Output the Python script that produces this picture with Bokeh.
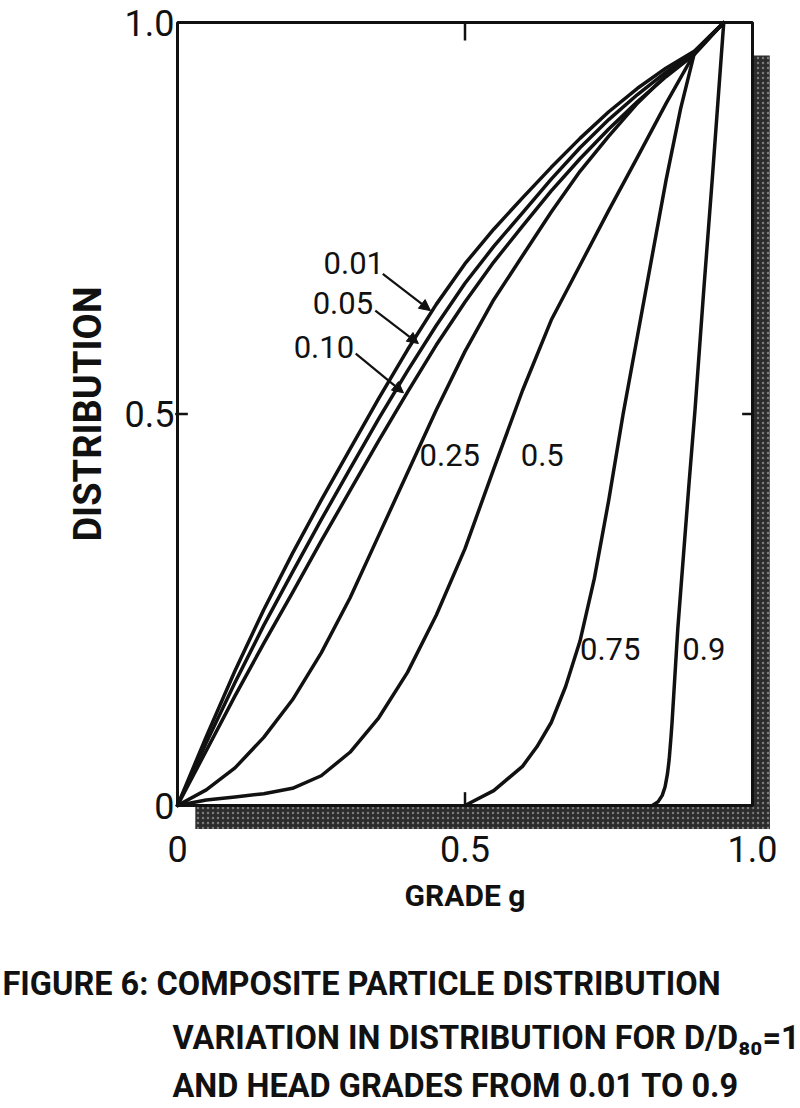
from bokeh.plotting import figure
from bokeh.models import (Range1d, FixedTicker, Arrow, NormalHead, ColumnDataSource,
                          LinearAxis)
from bokeh.core.properties import value
from bokeh.embed import file_html
from bokeh.resources import INLINE

FONT = "Roboto"
INK = "#111111"

# ---------------- data ----------------
head_grades = ["0.01", "0.05", "0.10", "0.25", "0.5", "0.75", "0.9"]

grade_common = [0, 0.05, 0.10, 0.15, 0.20, 0.25, 0.30, 0.35, 0.40, 0.45,
                0.50, 0.55, 0.60, 0.65, 0.70, 0.75, 0.80, 0.85, 0.90, 0.95]
dist_001 = [0, 0.088, 0.172, 0.250, 0.322, 0.390, 0.455, 0.520, 0.582, 0.640,
            0.692, 0.736, 0.776, 0.815, 0.852, 0.886, 0.916, 0.942, 0.964, 1.0]
dist_005 = [0, 0.080, 0.157, 0.230, 0.298, 0.365, 0.430, 0.494, 0.555, 0.613,
            0.667, 0.714, 0.757, 0.800, 0.840, 0.876, 0.908, 0.937, 0.962, 1.0]
dist_010 = [0, 0.070, 0.140, 0.207, 0.272, 0.338, 0.402, 0.466, 0.528, 0.588,
            0.643, 0.694, 0.740, 0.785, 0.826, 0.864, 0.899, 0.931, 0.960, 1.0]
dist_025 = [0, 0.020, 0.048, 0.087, 0.135, 0.195, 0.265, 0.345, 0.425, 0.505,
            0.580, 0.646, 0.702, 0.758, 0.810, 0.855, 0.897, 0.933, 0.962, 1.0]
dist_050 = [0, 0.007, 0.011, 0.015, 0.022, 0.038, 0.068, 0.112, 0.170, 0.243,
            0.328, 0.430, 0.530, 0.620, 0.690, 0.760, 0.828, 0.897, 0.962, 1.0]

grade_075 = [0.50, 0.55, 0.60, 0.625, 0.65, 0.675, 0.70, 0.725, 0.75, 0.775,
             0.80, 0.825, 0.85, 0.875, 0.90, 0.95]
dist_075 = [0, 0.019, 0.050, 0.075, 0.106, 0.152, 0.210, 0.290, 0.390, 0.500,
            0.600, 0.700, 0.800, 0.890, 0.964, 1.0]

grade_090 = [0.826, 0.836, 0.843, 0.848, 0.852, 0.855, 0.858, 0.860, 0.870,
             0.880, 0.890, 0.900, 0.915, 0.930, 0.950]
dist_090 = [0, 0.005, 0.013, 0.024, 0.040, 0.058, 0.085, 0.105, 0.225,
            0.320, 0.415, 0.505, 0.656, 0.800, 1.0]

# curve label positions (left edge, vertical centre)
label_x = [0.254, 0.235, 0.202, 0.421, 0.597, 0.700, 0.878]
label_y = [0.693, 0.642, 0.586, 0.447, 0.447, 0.200, 0.200]

# leader arrows for the three crowded curves
arrow_x0 = [0.357, 0.344, 0.310]
arrow_y0 = [0.679, 0.632, 0.577]
arrow_x1 = [0.440, 0.419, 0.393]
arrow_y1 = [0.632, 0.590, 0.527]

# axis ticks
x_ticks = [0, 0.5, 1.0]
y_ticks = [0, 0.5, 1.0]
tick_text = {0: "0", 0.5: "0.5", 1: "1.0"}
inner_ticks = [0.5]

caption_lines = ["FIGURE 6: COMPOSITE PARTICLE DISTRIBUTION",
                 "VARIATION IN DISTRIBUTION FOR D/D\u2088\u2080=1",
                 "AND HEAD GRADES FROM 0.01 TO 0.9"]

# ---------------- page geometry (pixels) ----------------
W, H = 800, 1108
ORIGIN_PX = (177, 805)          # where grade 0 / distribution 0 sits on the page
UNIT_PX = (575, 783)            # pixels for one unit on each axis


def gx(px):
    return (px - ORIGIN_PX[0]) / UNIT_PX[0]


def gy(py):
    return (ORIGIN_PX[1] - py) / UNIT_PX[1]


p = figure(width=W, height=H, output_backend="svg", toolbar_location=None,
           x_range=Range1d(gx(0), gx(W)), y_range=Range1d(gy(H), gy(0)),
           x_axis_location=None, y_axis_location=None, min_border=0)
p.min_border_left = p.min_border_right = p.min_border_top = p.min_border_bottom = 0
p.outline_line_color = None
p.grid.visible = False
p.background_fill_color = "white"
p.border_fill_color = "white"

# drop shadow of the frame
sh_dx, sh_dy, sh_w = 0.031, 0.042, 0.03
p.quad(left=[sh_dx, 1.0], right=[1.0 + sh_w, 1.0 + sh_w],
       bottom=[-sh_w, -sh_w], top=[0, 1.0 - sh_dy],
       fill_color="#2c2c2c", line_color=None,
       hatch_pattern="dot", hatch_color="#7a7a7a", hatch_scale=5, hatch_weight=1.2)

# frame
p.quad(left=[0], right=[1], bottom=[0], top=[1], fill_color=None,
       line_color=INK, line_width=3)

# tick marks at 0.5 on all four sides
n = len(inner_ticks)
p.segment(x0=[-0.004] * n, y0=inner_ticks, x1=[0.018] * n, y1=inner_ticks,
          line_color=INK, line_width=2.5)
p.segment(x0=[0.982] * n, y0=inner_ticks, x1=[1.0] * n, y1=inner_ticks,
          line_color=INK, line_width=2.5)
p.segment(x0=inner_ticks, y0=[0.977] * n, x1=inner_ticks, y1=[1.0] * n,
          line_color=INK, line_width=2.5)
p.segment(x0=inner_ticks, y0=[0.0] * n, x1=inner_ticks, y1=[0.017] * n,
          line_color=INK, line_width=2.5)

# curves
curves = [
    (grade_common, dist_001), (grade_common, dist_005), (grade_common, dist_010),
    (grade_common, dist_025), (grade_common, dist_050),
    (grade_075, dist_075), (grade_090, dist_090),
]
for xs, ys in curves:
    p.line(xs, ys, line_color=INK, line_width=3.5, line_join="round", line_cap="round")

# curve labels
p.text(x=label_x, y=label_y, text=head_grades, text_font=value(FONT),
       text_font_size="31px", text_color=INK, text_baseline="middle", text_align="left")

# arrows
asrc = ColumnDataSource(dict(x0=arrow_x0, y0=arrow_y0, x1=arrow_x1, y1=arrow_y1))
p.add_layout(Arrow(source=asrc, x_start="x0", y_start="y0", x_end="x1", y_end="y1",
                   line_color=INK, line_width=2.2,
                   end=NormalHead(size=11, fill_color=INK, line_color=INK)))

# axes, pinned to the plot origin
xaxis = LinearAxis(fixed_location=0, bounds=(0, 1))
yaxis = LinearAxis(fixed_location=0, bounds=(0, 1))
for ax, ticks in ((xaxis, x_ticks), (yaxis, y_ticks)):
    ax.ticker = FixedTicker(ticks=ticks)
    ax.major_label_overrides = tick_text
    ax.axis_line_color = None
    ax.major_tick_line_color = None
    ax.minor_tick_line_color = None
    ax.major_tick_in = 0
    ax.major_tick_out = 0
    ax.major_label_text_font = FONT
    ax.major_label_text_font_size = "36px"
    ax.major_label_text_color = INK
    ax.axis_label_text_font = FONT
    ax.axis_label_text_font_style = "bold"
    ax.axis_label_text_color = INK

xaxis.major_label_standoff = 30
xaxis.axis_label = "GRADE g"
xaxis.axis_label_text_font_size = "30px"
xaxis.axis_label_standoff = 13
yaxis.major_label_standoff = 3
yaxis.axis_label = "DISTRIBUTION"
yaxis.axis_label_text_font_size = "38px"
yaxis.axis_label_standoff = 12
p.add_layout(xaxis, "below")
p.add_layout(yaxis, "left")

# caption
p.text(x=[gx(2), gx(172), gx(172)], y=[gy(983), gy(1037), gy(1085)], text=caption_lines,
       text_font=value(FONT), text_font_size="32.5px", text_font_style="bold",
       text_color=INK, text_baseline="middle", text_align="left")

open("out.html", "w").write(file_html(p, INLINE))
